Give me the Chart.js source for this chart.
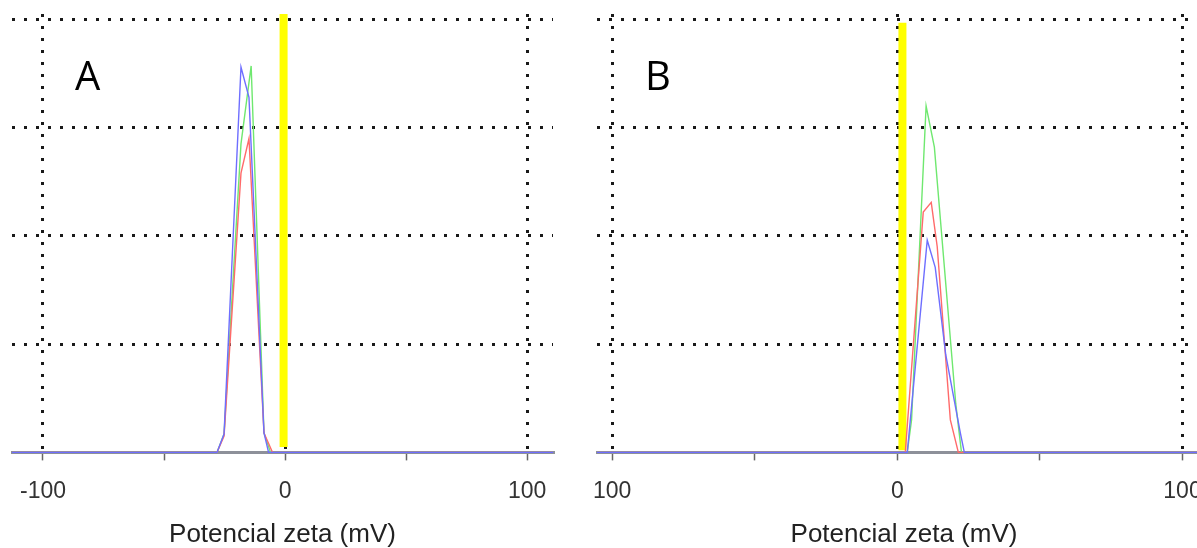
<!DOCTYPE html>
<html>
<head>
<meta charset="utf-8">
<script src="https://cdn.jsdelivr.net/npm/chart.js@4.4.1/dist/chart.umd.min.js"></script>
<style>
    html, body { margin: 0; padding: 0; background: #fff; overflow: hidden; width: 1197px; height: 548px; }
    .panel { position: absolute; top: 0; height: 548px; }
    #wrapA { left: 0; width: 580px; }
    #wrapB { left: 567px; width: 680px; }
</style>
</head>
<body>
<div class="panel" id="wrapA"><canvas id="chartA" width="580" height="548"></canvas></div>
<div class="panel" id="wrapB"><canvas id="chartB" width="680" height="548"></canvas></div>
<script>
// ===============================
// Data
// ===============================
const xTicks = [-100, -50, 0, 50, 100];
const majorTicks = [-100, 0, 100];
const tickLabelsA = ["-100", "", "0", "", "100"];
const tickLabelsB = ["100", "", "0", "", "100"];
const yTicks = [0, 1, 2, 3, 4];
const axisTitle = "Potencial zeta (mV)";

// panel A
const aRange = [-112.8, 110.7];
const aBlueX = [-112.8, -28.1, -25.2, -18.2, -14.9, -8.7, -6.8, 110.7];
const aBlueY = [0, 0, 0.17, 3.56, 3.28, 0.18, 0, 0];
const aGreenX = [-112.8, -28.1, -25.2, -18.2, -14.0, -8.7, -6.0, 110.7];
const aGreenY = [0, 0, 0.17, 2.85, 3.57, 0.18, 0, 0];
const aRedX = [-112.8, -28.1, -25.2, -18.2, -14.9, -8.7, -5.2, 110.7];
const aRedY = [0, 0, 0.15, 2.58, 2.90, 0.18, 0, 0];
const aYellowX = [-0.6, -0.6];
const aYellowY = [0.05, 4.05];

// panel B
const bRange = [-105.3, 110];
const bBlueX = [-105.3, 3.5, 10.5, 13.3, 17.0, 22.1, 23.5, 110];
const bBlueY = [0, 0, 1.96, 1.71, 0.9, 0.18, 0, 0];
const bGreenX = [-105.3, 3.5, 5.0, 10.1, 13.0, 20.5, 22.5, 110];
const bGreenY = [0, 0, 0.3, 3.2, 2.82, 0.45, 0, 0];
const bRedX = [-105.3, 2.8, 9.1, 11.9, 14.0, 18.6, 21.4, 110];
const bRedY = [0, 0, 2.22, 2.31, 1.90, 0.30, 0, 0];
const bYellowX = [1.8, 1.8];
const bYellowY = [0.02, 3.97];

const pts = (xs, ys) => xs.map((x, i) => ({ x: x, y: ys[i] }));

// big panel letter ("A" / "B") drawn inside the plot
const letterPlugin = {
    id: "panelLetter",
    afterDraw(chart, args, opts) {
        const ctx = chart.ctx;
        ctx.save();
        ctx.font = "40px 'Open Sans'";
        ctx.fillStyle = "#000";
        ctx.textBaseline = "alphabetic";
        ctx.fillText(opts.text, opts.x, opts.y);
        ctx.restore();
    }
};

function makeChart(id, range, labels, series, yellow, letter, pad) {
    const line = (color, xs, ys) => ({
        data: pts(xs, ys),
        borderColor: color,
        borderWidth: 1.4,
        pointRadius: 0,
        tension: 0,
        clip: false
    });
    return new Chart(document.getElementById(id), {
        type: "line",
        data: {
            datasets: [
                line("#6e6eff", series.blue[0], series.blue[1]),
                line("#ff6a6a", series.red[0], series.red[1]),
                line("#6fe86f", series.green[0], series.green[1]),
                {
                    data: pts(yellow[0], yellow[1]),
                    borderColor: "#ffff00",
                    borderWidth: 8,
                    pointRadius: 0,
                    borderCapStyle: "butt"
                }
            ]
        },
        plugins: [letterPlugin],
        options: {
            responsive: false,
            animation: false,
            layout: {
                padding: { top: 14, left: pad.left, right: pad.right, bottom: 0 }
            },
            scales: {
                x: {
                    type: "linear",
                    min: range[0],
                    max: range[1],
                    afterBuildTicks: s => { s.ticks = xTicks.map(v => ({ value: v })); },
                    grid: {
                        color: c => majorTicks.includes(c.tick.value) ? "#1a1a1a" : "rgba(0,0,0,0)",
                        lineWidth: 3,
                        tickColor: "#666",
                        tickWidth: 1.5,
                        tickLength: 8,
                        tickBorderDash: []
                    },
                    border: { display: true, color: "#8d9099", width: 3, dash: [3, 9] },
                    ticks: {
                        autoSkip: false,
                        maxRotation: 0,
                        padding: 17,
                        color: "#333",
                        font: { family: "'Liberation Sans', Arial", size: 23 },
                        callback: v => labels[xTicks.indexOf(v)]
                    },
                    title: {
                        display: true,
                        text: axisTitle,
                        color: "#222",
                        padding: { top: 0, bottom: 0 },
                        font: { family: "'Liberation Sans', Arial", size: 26, lineHeight: 1 }
                    }
                },
                y: {
                    min: 0,
                    max: 4.05,
                    afterBuildTicks: s => { s.ticks = yTicks.map(v => ({ value: v })); },
                    afterFit: s => { s.width = 0; },
                    grid: {
                        color: c => c.tick.value === 0 ? "rgba(0,0,0,0)" : "#1a1a1a",
                        lineWidth: 3,
                        drawTicks: false
                    },
                    border: { display: false, dash: [3, 9] },
                    ticks: { display: false }
                }
            },
            plugins: {
                legend: { display: false },
                tooltip: { enabled: false },
                panelLetter: letter
            }
        }
    });
}

makeChart("chartA", aRange, tickLabelsA,
    { blue: [aBlueX, aBlueY], red: [aRedX, aRedY], green: [aGreenX, aGreenY] },
    [aYellowX, aYellowY],
    { text: "A", x: 75, y: 90 },
    { left: 12, right: 27 });

makeChart("chartB", bRange, tickLabelsB,
    { blue: [bBlueX, bBlueY], red: [bRedX, bRedY], green: [bGreenX, bGreenY] },
    [bYellowX, bYellowY],
    { text: "B", x: 78, y: 90 },
    { left: 30, right: 36 });
</script>
</body>
</html>
